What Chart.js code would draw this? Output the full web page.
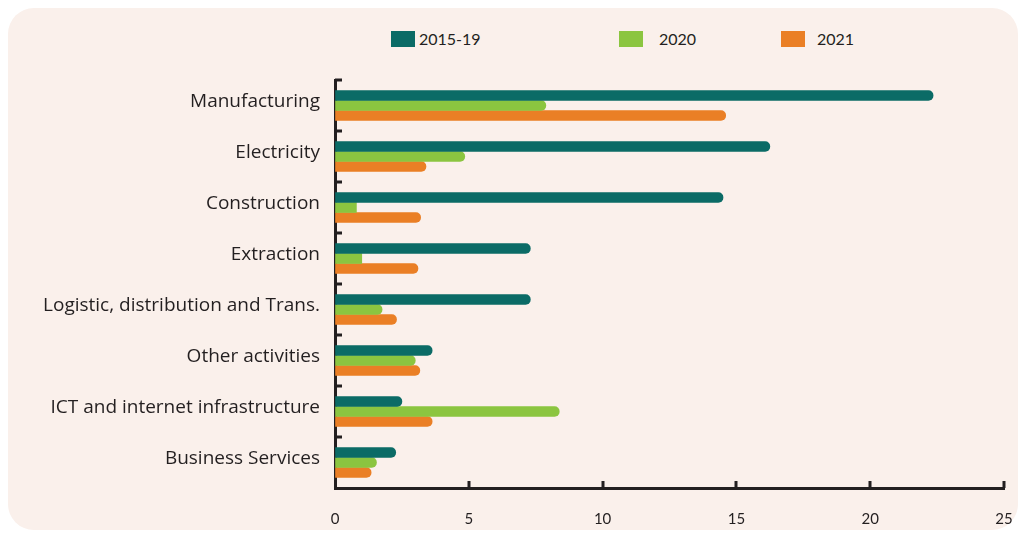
<!DOCTYPE html>
<html>
<head>
<meta charset="utf-8">
<script src="https://cdn.jsdelivr.net/npm/chart.js@4"></script>
<style>
  html, body { margin: 0; padding: 0; background: #ffffff; }
  #wrap { position: relative; width: 1022px; height: 533px; overflow: hidden; }
  #card {
    position: absolute; left: 8px; top: 8px; width: 1010px; height: 522px;
    background: #faf0eb; border-radius: 26px;
  }
  #chart { position: absolute; left: 0; top: 0; }
  #legend { position: absolute; left: 0; top: 0; width: 1022px; height: 60px;
    font-family: Lato, sans-serif; font-size: 16px; color: #231f20; }
  .lg-box { position: absolute; top: 31px; width: 24px; height: 16px; }
  .lg-text { position: absolute; top: 29px; line-height: 20px; }
</style>
</head>
<body>
<div id="wrap">
  <div id="card"></div>
  <div id="legend"></div>
  <canvas id="chart" width="1022" height="533"></canvas>
</div>
<script>
// ---- Data ----
const sectors = [
  'Manufacturing',
  'Electricity',
  'Construction',
  'Extraction',
  'Logistic, distribution and Trans.',
  'Other activities',
  'ICT and internet infrastructure',
  'Business Services'
];
const seriesNames  = ['2015-19', '2020', '2021'];
const seriesColors = ['#0b6b66', '#8bc540', '#ea7f25'];
const val2015_19 = [22.35, 16.25, 14.5, 7.3, 7.3, 3.63, 2.5, 2.27];
const val2020    = [7.88, 4.85, 0.8, 1.0, 1.76, 3.0, 8.38, 1.55];
const val2021    = [14.6, 3.4, 3.2, 3.1, 2.3, 3.17, 3.63, 1.35];
const xTicks     = [0, 5, 10, 15, 20, 25];

// ---- Layout (px) ----
const AXIS_LEFT   = 335;
const AXIS_RIGHT  = 1004;
const PLOT_TOP    = 80;
const AXIS_BOTTOM = 488;
const INK         = '#231f20';

// Legend: squares + labels placed along the top
const legendSpots = [
  { box: 391, text: 419 },
  { box: 619, text: 659 },
  { box: 781, text: 817 }
];
const legendEl = document.getElementById('legend');
seriesNames.forEach((name, i) => {
  const b = document.createElement('div');
  b.className = 'lg-box';
  b.style.left = legendSpots[i].box + 'px';
  b.style.background = seriesColors[i];
  const t = document.createElement('div');
  t.className = 'lg-text';
  t.style.left = legendSpots[i].text + 'px';
  t.textContent = name;
  legendEl.appendChild(b);
  legendEl.appendChild(t);
});

// Inward tick marks on both axes (the library only draws them outward)
const innerTicks = {
  id: 'innerTicks',
  afterDraw(chart) {
    const { ctx, scales: { x, y } } = chart;
    ctx.save();
    ctx.strokeStyle = INK;
    ctx.lineWidth = 3;
    ctx.lineCap = 'butt';
    // category boundaries on the y axis
    const half = (y.getPixelForValue(1) - y.getPixelForValue(0)) / 2;
    for (let i = 0; i < sectors.length; i++) {
      const py = Math.round(y.getPixelForValue(i) - half);
      ctx.beginPath();
      ctx.moveTo(x.left, py);
      ctx.lineTo(x.left + 7, py);
      ctx.stroke();
    }
    // value ticks on the x axis
    xTicks.slice(1).forEach(v => {
      const px = Math.round(x.getPixelForValue(v));
      ctx.beginPath();
      ctx.moveTo(px, y.bottom);
      ctx.lineTo(px, y.bottom - 7);
      ctx.stroke();
    });
    ctx.restore();
  }
};

const mk = (i, data) => ({
  label: seriesNames[i],
  data,
  backgroundColor: seriesColors[i],
  barThickness: 10,
  borderSkipped: 'start',
  borderRadius: ctx => (ctx.raw <= 1 ? 0 : 5)
});

new Chart(document.getElementById('chart'), {
  type: 'bar',
  data: {
    labels: sectors,
    datasets: [mk(0, val2015_19), mk(1, val2020), mk(2, val2021)]
  },
  options: {
    indexAxis: 'y',
    responsive: false,
    animation: false,
    layout: { padding: { top: PLOT_TOP, right: 1022 - AXIS_RIGHT, left: 0, bottom: 0 } },
    plugins: { legend: { display: false }, tooltip: { enabled: false } },
    scales: {
      x: {
        min: 0, max: 25,
        afterBuildTicks: s => { s.ticks = xTicks.map(v => ({ value: v })); },
        grid: { display: true, drawOnChartArea: false, drawTicks: false, color: 'rgba(0,0,0,0)' },
        border: { display: true, color: INK, width: 3 },
        ticks: {
          padding: 22,
          color: INK,
          font: { family: 'Lato', size: 15 }
        },
        afterFit: s => {
          s.height = 533 - AXIS_BOTTOM;
          s.paddingLeft = 0;
          s.paddingRight = 0;
        }
      },
      y: {
        grid: { display: true, drawOnChartArea: false, drawTicks: false, color: 'rgba(0,0,0,0)' },
        border: { display: true, color: INK, width: 3 },
        ticks: {
          padding: 15,
          labelOffset: -4,
          color: INK,
          font: { family: 'Open Sans', size: 19 }
        },
        afterFit: s => { s.width = AXIS_LEFT; }
      }
    }
  },
  plugins: [innerTicks]
});
</script>
</body>
</html>
